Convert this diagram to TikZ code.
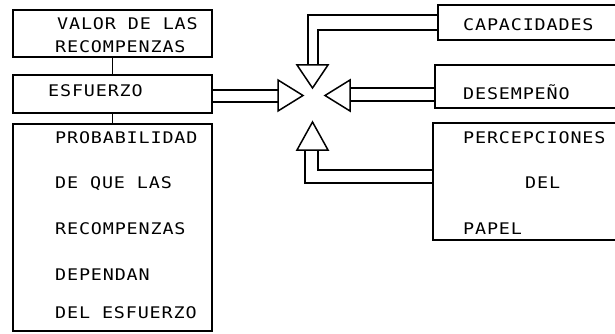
\documentclass[tikz,border=0pt]{standalone}
\usepackage{fontspec}
\newfontfamily\dm[FakeStretch=1.15,LetterSpace=5.3]{DejaVu Sans Mono}
\begin{document}
\begin{tikzpicture}[x=1pt,y=-1pt,
  box/.style={draw,line width=1.5pt,inner sep=0pt,outer sep=0pt,rectangle},
  lbl/.style={anchor=base west,inner sep=0pt,font=\dm\fontsize{16}{16}\selectfont},
  ln/.style={line width=1.5pt},
  tri/.style={line width=1.5pt,line join=miter}]
\useasboundingbox (0,0) rectangle (615,334);
\clip (0,0) rectangle (615,334);
% left boxes
\node[box,minimum width=199pt,minimum height=47pt] (valor) at (112.5,33.5) {};
\node[box,minimum width=199pt,minimum height=38pt] (esf) at (112.5,94) {};
\node[box,minimum width=199pt,minimum height=207pt] (prob) at (112.5,227.5) {};
% right boxes (run off the right edge)
\node[box,minimum width=202pt,minimum height=35pt] (cap) at (539,22.5) {};
\node[box,minimum width=205pt,minimum height=43pt] (des) at (537.5,86.5) {};
\node[box,minimum width=207pt,minimum height=117pt] (per) at (536.5,181.5) {};
% texts
\node[lbl] (t1) at (57,30) {VALOR DE LAS};
\node[lbl] (t2) at (55,53) {RECOMPENZAS};
\node[lbl] (t3) at (48,97) {ESFUERZO};
\node[lbl] (t4) at (55,143) {PROBABILIDAD};
\node[lbl] (t5) at (55,188) {DE QUE LAS};
\node[lbl] (t6) at (55,234) {RECOMPENZAS};
\node[lbl] (t7) at (55,280) {DEPENDAN};
\node[lbl] (t8) at (55,318) {DEL ESFUERZO};
\node[lbl] (t9) at (463,31) {CAPACIDADES};
\node[lbl] (t10) at (463,100) {DESEMPEÑO};
\node[lbl] (t11) at (463,143) {PERCEPCIONES};
\node[lbl] (t12) at (525,188) {DEL};
\node[lbl] (t13) at (463,234) {PAPEL};
% vertical links
\draw[ln] (valor.south) -- (esf.north);
\draw[ln] (esf.south) -- (prob.north);
% arrowheads (open triangles)
\coordinate (rb) at (278,95.5);
\coordinate (lb) at (350,95.5);
\coordinate (db) at (312.5,65);
\coordinate (ub) at (312.5,150);
\draw[tri] (278,80) -- (278,111) -- (303,95.5) -- cycle;
\draw[tri] (350,80) -- (350,111) -- (325,95.5) -- cycle;
\draw[tri] (297,65) -- (328,65) -- (312.5,88) -- cycle;
\draw[tri] (297,150) -- (328,150) -- (312.5,122) -- cycle;
% double connectors
\draw[ln] (esf.east |- 0,90) -- (rb |- 0,90);
\draw[ln] (esf.east |- 0,102) -- (rb |- 0,102);
\draw[ln] (des.west |- 0,88) -- (lb |- 0,88);
\draw[ln] (des.west |- 0,101) -- (lb |- 0,101);
\draw[ln] (cap.west |- 0,15) -- (308,15) -- (308,0 |- db);
\draw[ln] (cap.west |- 0,30) -- (318,30) -- (318,0 |- db);
\draw[ln] (per.west |- 0,183) -- (305,183) -- (305,0 |- ub);
\draw[ln] (per.west |- 0,170) -- (318,170) -- (318,0 |- ub);
\end{tikzpicture}
\end{document}
